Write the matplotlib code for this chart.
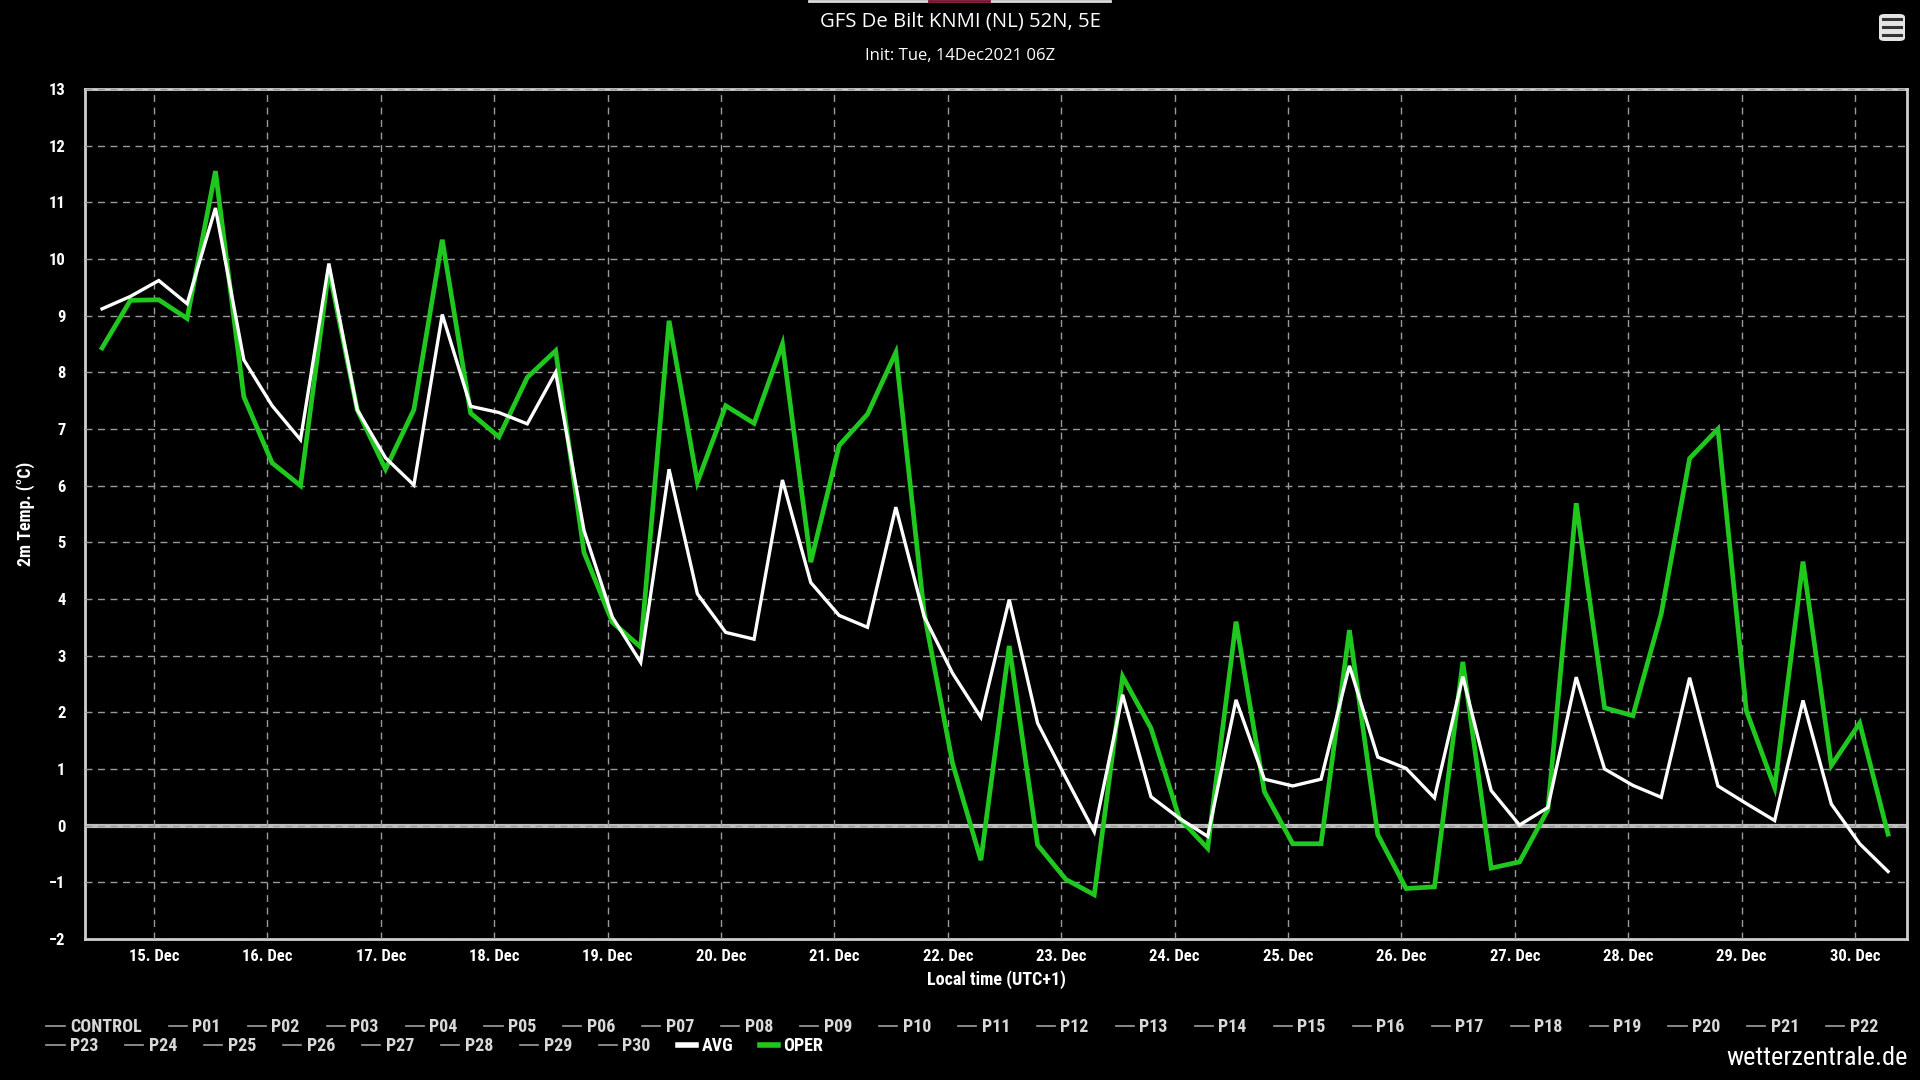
import matplotlib
matplotlib.use('Agg')
import matplotlib.pyplot as plt
import matplotlib.dates as mdates
import pandas as pd
from matplotlib.lines import Line2D
from matplotlib.patches import FancyBboxPatch

# ensemble mean (AVG) and operational run (OPER), 2m temperature, every 6 h
avg = [9.12, 9.34, 9.62, 9.21, 10.90, 8.22, 7.41, 6.81, 9.92, 7.34, 6.49, 6.01,
       9.02, 7.40, 7.29, 7.09, 8.00, 5.21, 3.68, 2.88, 6.29, 4.09, 3.41, 3.29,
       6.10, 4.29, 3.71, 3.50, 5.62, 3.69, 2.69, 1.91, 3.99, 1.81, 0.84, -0.11,
       2.31, 0.51, 0.13, -0.19, 2.22, 0.82, 0.70, 0.82, 2.82, 1.21, 1.01, 0.49,
       2.63, 0.62, 0.01, 0.32, 2.62, 1.00, 0.71, 0.50, 2.61, 0.70, 0.39, 0.09,
       2.21, 0.38, -0.32, -0.81]
oper = [8.43, 9.27, 9.28, 8.95, 11.55, 7.57, 6.40, 6.00, 9.82, 7.34, 6.29, 7.34,
        10.34, 7.28, 6.86, 7.91, 8.38, 4.82, 3.59, 3.15, 8.91, 6.06, 7.41, 7.10,
        8.50, 4.65, 6.71, 7.26, 8.35, 3.75, 1.10, -0.61, 3.17, -0.34, -0.95, -1.22,
        2.63, 1.72, 0.13, -0.40, 3.60, 0.60, -0.32, -0.32, 3.45, -0.16, -1.11, -1.08,
        2.89, -0.75, -0.64, 0.28, 5.69, 2.08, 1.94, 3.74, 6.48, 7.00, 2.03, 0.67,
        4.66, 1.06, 1.81, -0.15]
times = pd.date_range('2021-12-14 13:00', periods=len(avg), freq='6h')

members = ['CONTROL'] + [f'P{i:02d}' for i in range(1, 31)]
row1_names = members[:23]
row2_names = members[23:]

title = 'GFS De Bilt KNMI (NL) 52N, 5E'
subtitle = 'Init: Tue, 14Dec2021 06Z'

narrow = ['Liberation Sans Narrow', 'Roboto Condensed', 'DejaVu Sans']
plt.rcParams['font.family'] = narrow
plt.rcParams['font.stretch'] = 'condensed'

fig = plt.figure(figsize=(19.2, 10.8), dpi=100, facecolor='black')
ax = fig.add_axes([0.0443, 0.1306, 0.9489, 0.787])
ax.set_facecolor('black')

ax.plot(times, oper, color='#1fc71f', linewidth=3.4, zorder=4, solid_joinstyle='miter')
ax.plot(times, avg, color='white', linewidth=2.4, zorder=5, solid_joinstyle='miter')

ax.axhline(0, color='#bdbdbd', linewidth=3, zorder=2)

ax.set_ylim(-2, 13)
ax.set_yticks(range(-2, 14))
ax.set_xlim(pd.Timestamp('2021-12-14 09:24'), pd.Timestamp('2021-12-30 11:00'))
ax.xaxis.set_major_locator(mdates.DayLocator())
ax.xaxis.set_major_formatter(mdates.DateFormatter('%d. %b'))

ax.grid(True, color='#9a9a9a', linestyle=(0, (5, 4)), linewidth=1, zorder=3)
ax.set_axisbelow(False)
for sp in ax.spines.values():
    sp.set_color('#cfcfcf')
    sp.set_linewidth(2)

ax.tick_params(axis='both', length=0, colors='white', labelsize=12)
ax.tick_params(axis='x', pad=7)
ax.tick_params(axis='y', pad=14)
for lab in ax.get_xticklabels() + ax.get_yticklabels():
    lab.set_fontweight('bold')

ax.set_xlabel('Local time (UTC+1)', color='white', fontsize=13, labelpad=5, fontweight='bold')
ax.set_ylabel('2m Temp. (°C)', color='white', fontsize=12.8, labelpad=10, fontweight='bold')

fig.text(0.5, 0.980, title, ha='center', va='center', color='white',
         fontsize=14.6, family=['Open Sans', 'DejaVu Sans'], fontstretch='normal')
fig.text(0.5, 0.948, subtitle, ha='center', va='center', color='white',
         fontsize=12, family=['Open Sans', 'DejaVu Sans'], fontstretch='normal')

fig.text(0.9935, 0.009, 'wetterzentrale.de', ha='right', va='bottom', color='white', fontsize=19)


def legend_row(names, y, extra=()):
    handles = [Line2D([], [], color='#a0a0a0', linewidth=1.2) for _ in names]
    labels = list(names)
    for lab, col in extra:
        handles.append(Line2D([], [], color=col, linewidth=4))
        labels.append(lab)
    leg = fig.legend(handles, labels, loc='center left', bbox_to_anchor=(0.0242, y),
                     ncol=len(labels), frameon=False, fontsize=13, handlelength=1.0,
                     handletextpad=0.3, columnspacing=1.5, borderpad=0, borderaxespad=0)
    for txt in leg.get_texts():
        txt.set_fontweight('bold')
        txt.set_color('#d8d8d8')
    for txt in leg.get_texts()[len(names):]:
        txt.set_color('white')
    return leg


legend_row(row1_names, 0.049)
legend_row(row2_names, 0.0315, extra=[('AVG', 'white'), ('OPER', '#1fc71f')])

# menu button, top right
btn = FancyBboxPatch((1879 / 1920, 1 - 41 / 1080), 26 / 1920, 27 / 1080,
                     boxstyle='round,pad=0,rounding_size=0.003', transform=fig.transFigure,
                     facecolor='#e4e4e4', edgecolor='none')
fig.add_artist(btn)
for yy in (19, 27, 35):
    fig.add_artist(Line2D([1883 / 1920, 1901 / 1920], [1 - yy / 1080] * 2,
                          transform=fig.transFigure, color='#333333', linewidth=2.2))

# tab strip at the top edge
fig.add_artist(Line2D([809 / 1920, 1110 / 1920], [0.999, 0.999], transform=fig.transFigure,
                      color='#dddddd', linewidth=2))
fig.add_artist(Line2D([929 / 1920, 989 / 1920], [0.999, 0.999], transform=fig.transFigure,
                      color='#7a1030', linewidth=2))

fig.savefig('out.png', dpi=100, facecolor='black')
